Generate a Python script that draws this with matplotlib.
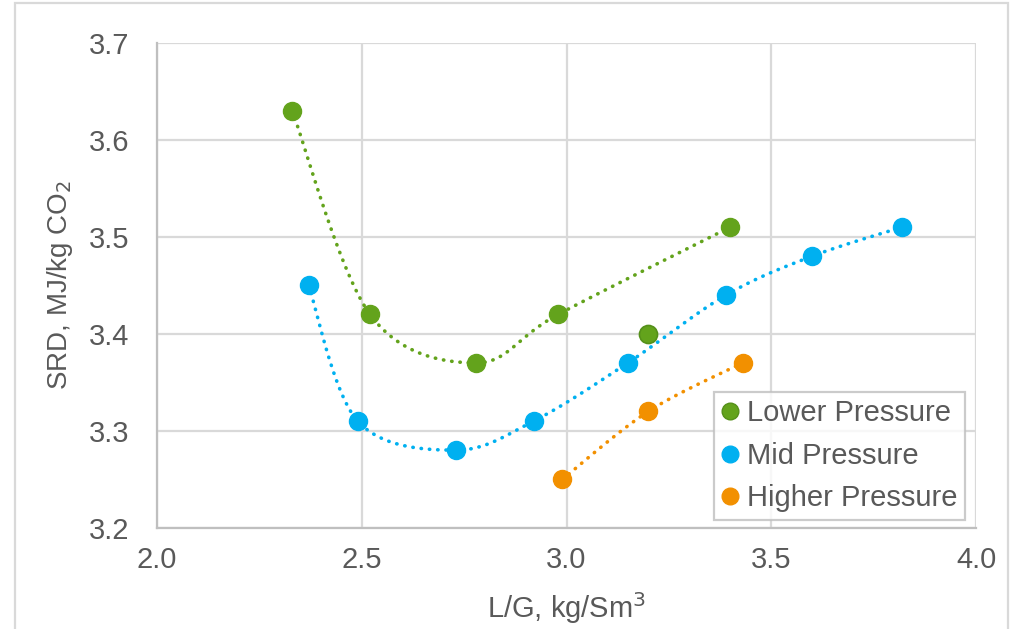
import numpy as np
import matplotlib
matplotlib.use('Agg')
from matplotlib import pyplot as plt
from matplotlib.lines import Line2D
from matplotlib.patches import Rectangle

plt.rcParams['font.family'] = ['Liberation Sans', 'DejaVu Sans']

# data
lower_x = [2.33, 2.52, 2.78, 2.98, 3.40]
lower_y = [3.63, 3.42, 3.37, 3.42, 3.51]
lower_extra_x = [3.20]
lower_extra_y = [3.40]
mid_x = [2.37, 2.49, 2.73, 2.92, 3.15, 3.39, 3.60, 3.82]
mid_y = [3.45, 3.31, 3.28, 3.31, 3.37, 3.44, 3.48, 3.51]
high_x = [2.99, 3.20, 3.43]
high_y = [3.25, 3.32, 3.37]

GREEN = '#63a31c'
BLUE = '#00b0f0'
ORANGE = '#f29000'
TEXT = '#595959'
GRID = '#d9d9d9'


def smooth(xs, ys, n=30):
    # Excel-like smoothed line: cubic Bezier with Catmull-Rom control points
    p = np.column_stack([xs, ys]).astype(float)
    out = []
    for i in range(len(p) - 1):
        p0 = p[i - 1] if i > 0 else p[i]
        p1, p2 = p[i], p[i + 1]
        p3 = p[i + 2] if i + 2 < len(p) else p[i + 1]
        c1 = p1 + (p2 - p0) / 6
        c2 = p2 - (p3 - p1) / 6
        t = np.linspace(0, 1, n)[:, None]
        seg = ((1 - t) ** 3 * p1 + 3 * (1 - t) ** 2 * t * c1
               + 3 * (1 - t) * t ** 2 * c2 + t ** 3 * p2)
        out.append(seg if i == 0 else seg[1:])
    out = np.vstack(out)
    return out[:, 0], out[:, 1]


fig = plt.figure(figsize=(10.13, 6.29), dpi=100)
ax = fig.add_axes([0.155, 0.161, 0.8085, 0.771])

dots = dict(linestyle=(0, (0.1, 2.2)), lw=2.6, dash_capstyle='round')
for xs, ys, c in [(lower_x, lower_y, GREEN), (mid_x, mid_y, BLUE),
                  (high_x, high_y, ORANGE)]:
    sx, sy = smooth(xs, ys)
    ax.plot(sx, sy, color=c, zorder=2, **dots)
    ax.plot(xs, ys, 'o', color=c, ms=13, mec=c, zorder=3)

ax.plot(lower_extra_x, lower_extra_y, 'o', color=GREEN, ms=13,
        mec='#55901a', mew=1.2, zorder=3)

ax.set_xlim(2.0, 4.0)
ax.set_ylim(3.2, 3.7)
ax.set_xticks([2.0, 2.5, 3.0, 3.5, 4.0])
ax.set_yticks([3.2, 3.3, 3.4, 3.5, 3.6, 3.7])
ax.xaxis.set_major_formatter(matplotlib.ticker.FormatStrFormatter('%.1f'))
ax.yaxis.set_major_formatter(matplotlib.ticker.FormatStrFormatter('%.1f'))
ax.grid(True, color=GRID, lw=1.6, zorder=0)
ax.set_axisbelow(True)
for s in ['top', 'right']:
    ax.spines[s].set_visible(False)
for s in ['left', 'bottom']:
    ax.spines[s].set_color('#bfbfbf')
    ax.spines[s].set_linewidth(1.6)
ax.tick_params(length=0, labelsize=21, colors=TEXT)
ax.tick_params(axis='x', pad=13)
ax.tick_params(axis='y', pad=20)

ax.set_xlabel('L/G, kg/Sm$^3$', fontsize=21, color=TEXT, labelpad=12)
ax.set_ylabel('SRD, MJ/kg CO$_2$', fontsize=20, color=TEXT, labelpad=10)

handles = [Line2D([], [], ls='none', marker='o', ms=12, color=c, mec=e)
           for c, e in [(GREEN, '#55901a'), (BLUE, BLUE), (ORANGE, ORANGE)]]
leg = ax.legend(handles, ['Lower Pressure', 'Mid Pressure', 'Higher Pressure'],
                loc='lower right', bbox_to_anchor=(0.9866, 0.0165),
                fontsize=21, frameon=True, fancybox=False, handlelength=0.6,
                handletextpad=0.3, borderpad=0.25, labelspacing=0.5,
                borderaxespad=0)
leg.get_frame().set_edgecolor('#bfbfbf')
leg.get_frame().set_linewidth(1.6)
for t in leg.get_texts():
    t.set_color(TEXT)

# chart area border
fig.patches.append(Rectangle((15 / 1013, -0.1), 993 / 1013, 1.095,
                             transform=fig.transFigure, fill=False,
                             edgecolor=GRID, lw=1.6))

fig.savefig('out.png', dpi=100)
